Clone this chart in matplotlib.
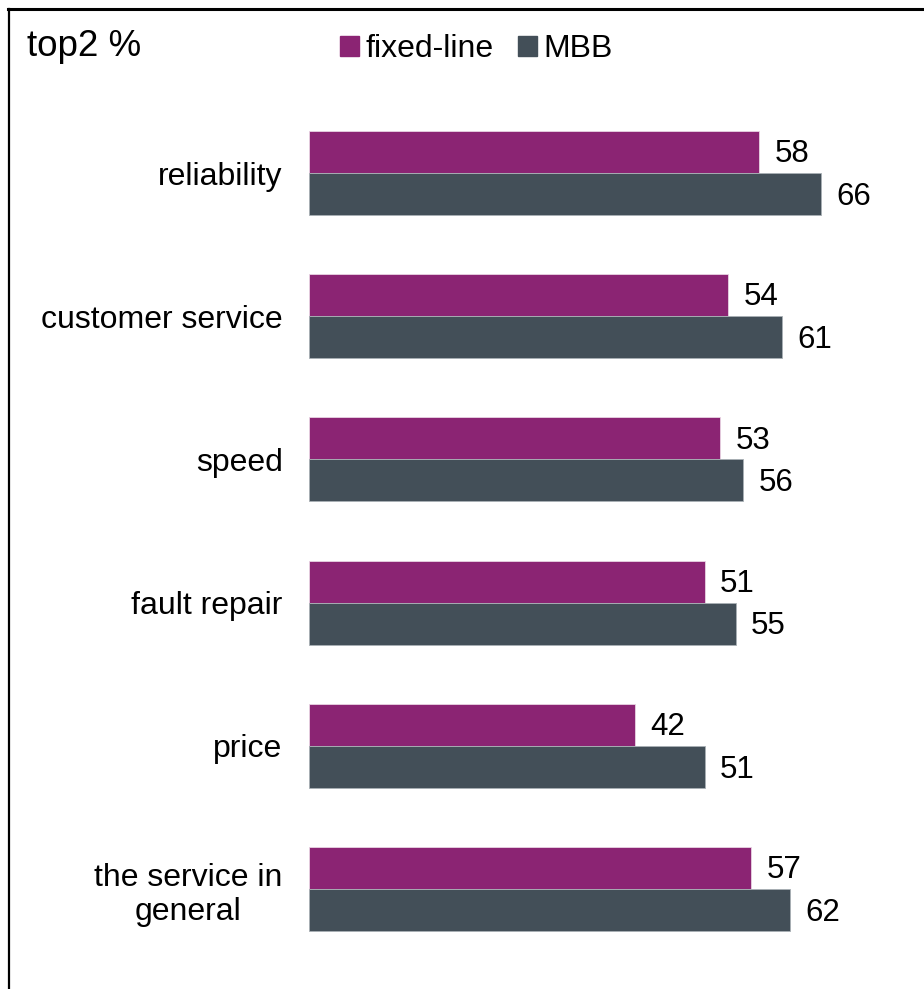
import matplotlib.pyplot as plt
import numpy as np
from matplotlib.lines import Line2D
from matplotlib.patches import Patch

plt.rcParams['font.family'] = ['Liberation Sans', 'DejaVu Sans']

categories = ["reliability", "customer service", "speed", "fault repair", "price",
              "the service in\ngeneral"]
fixed_line = [58, 54, 53, 51, 42, 57]
mbb = [66, 61, 56, 55, 51, 62]

c_fixed = "#8B2473"
c_mbb = "#434F58"

W, H = 924, 989
fig = plt.figure(figsize=(W / 100, H / 100), dpi=100)

# axes placed so that x=0 sits at px 309 and groups are ~143 px apart
left_px, right_px = 309, 309 + 7.758 * 78
top_px, bot_px = 173 - 143.2 * 0.6, 889 + 143.2 * 0.6
ax = fig.add_axes([left_px / W, 1 - bot_px / H, (right_px - left_px) / W, (bot_px - top_px) / H])

y = np.arange(len(categories))
h = 0.293
ax.barh(y - h / 2, fixed_line, height=h, color=c_fixed, edgecolor="#e9d3e3", linewidth=0.6)
ax.barh(y + h / 2, mbb, height=h, color=c_mbb, edgecolor="#a9b0b5", linewidth=0.6)

for yi, v in zip(y, fixed_line):
    ax.text(v + 2.0, yi - h / 2 + 0.015, str(v), va="center", ha="left", fontsize=22.5)
for yi, v in zip(y, mbb):
    ax.text(v + 2.0, yi + h / 2 + 0.02, str(v), va="center", ha="left", fontsize=22.5)

ax.set_xlim(0, 78)
ax.set_ylim(len(categories) - 1 + 0.6, -0.6)
ax.set_yticks(y)
ax.set_yticklabels(categories, fontsize=23, multialignment="center")
ax.tick_params(axis="y", length=0, pad=19)
ax.set_xticks([])
for s in ["top", "right", "bottom", "left"]:
    ax.spines[s].set_visible(False)

fig.text(27 / W, 1 - 46 / H, "top2 %", fontsize=26.5, va="center", ha="left")

handles = [Patch(color=c_fixed, label="fixed-line"), Patch(color=c_mbb, label="MBB")]
fig.legend(handles=handles, loc="center left", bbox_to_anchor=(340 / W, 1 - 49 / H),
           ncol=2, frameon=False, fontsize=23, handlelength=0.6, handleheight=0.6,
           handletextpad=0.2, columnspacing=0.75, borderpad=0, borderaxespad=0)

# frame: top and left borders
fig.add_artist(Line2D([8 / W, 1], [1 - 9 / H, 1 - 9 / H], color="black", linewidth=2.2))
fig.add_artist(Line2D([8.5 / W, 8.5 / W], [0, 1 - 9 / H], color="black", linewidth=1.6))

fig.savefig("out.png", dpi=100)
